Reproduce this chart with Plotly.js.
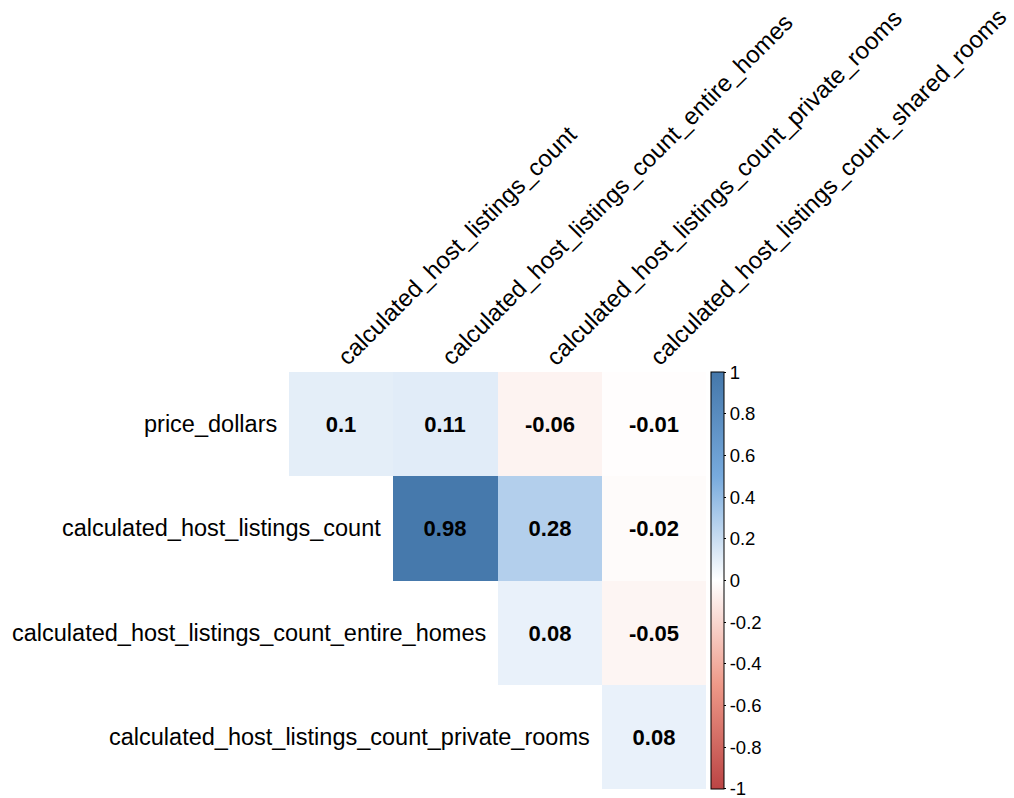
<!DOCTYPE html>
<html>
<head>
<meta charset="utf-8">
<script src="https://cdn.plot.ly/plotly-3.0.1.min.js"></script>
<style>html,body{margin:0;padding:0;background:#fff;}</style>
</head>
<body>
<div id="chart" style="width:1014px;height:798px;"></div>
<script>
// Row variables (top to bottom)
const rowLabels = [
  "price_dollars",
  "calculated_host_listings_count",
  "calculated_host_listings_count_entire_homes",
  "calculated_host_listings_count_private_rooms"
];
// Column variables (left to right)
const colLabels = [
  "calculated_host_listings_count",
  "calculated_host_listings_count_entire_homes",
  "calculated_host_listings_count_private_rooms",
  "calculated_host_listings_count_shared_rooms"
];
// Correlation values (upper triangle, null = not shown)
const row0 = [0.1, 0.11, -0.06, -0.01];
const row1 = [null, 0.98, 0.28, -0.02];
const row2 = [null, null, 0.08, -0.05];
const row3 = [null, null, null, 0.08];
const colorbarTicks = [1, 0.8, 0.6, 0.4, 0.2, 0, -0.2, -0.4, -0.6, -0.8, -1];

const zRows = [row0, row1, row2, row3];
const textRows = zRows.map(r => r.map(v => v === null ? "" : String(v)));
const xIdx = colLabels.map((_, i) => i);
const yIdx = rowLabels.map((_, i) => i);

const FONT = "Liberation Sans, Arial, sans-serif";

const trace = {
  type: "heatmap",
  x: xIdx,
  y: yIdx,
  z: zRows,
  text: textRows,
  texttemplate: "<b>%{text}</b>",
  textfont: {family: FONT, size: 22, color: "#000000"},
  zmin: -1, zmax: 1,
  colorscale: [
    [0, "#BB4444"], [0.25, "#EE9988"], [0.5, "#FFFFFF"], [0.75, "#77AADD"], [1, "#4477AA"]
  ],
  hoverongaps: false,
  colorbar: {
    x: 1.012, xanchor: "left", xpad: 0,
    y: 0.5, yanchor: "middle", ypad: 0,
    len: 1, lenmode: "fraction",
    thickness: 13, thicknessmode: "pixels",
    outlinecolor: "#000000", outlinewidth: 1,
    tickvals: colorbarTicks.map(v => v === -1 ? -0.9999 : (v === 1 ? 0.9999 : v)),
    ticktext: colorbarTicks.map(v => String(v)),
    ticks: "outside", ticklen: 2, tickcolor: "#000000",
    ticklabeloverflow: "allow",
    tickfont: {family: FONT, size: 18.5, color: "#000000"}
  }
};

const rowAnn = rowLabels.map((lab, i) => ({
  xref: "x", yref: "y",
  x: i - 0.5, y: i,
  text: lab,
  showarrow: false,
  xanchor: "right", yanchor: "middle",
  xshift: -10,
  font: {family: FONT, size: 23.5, color: "#000000"}
}));

const colAnn = colLabels.map((lab, i) => ({
  xref: "x", yref: "paper",
  x: i, y: 1,
  text: lab,
  textangle: -45,
  showarrow: false,
  xanchor: "left", yanchor: "bottom",
  xshift: -12, yshift: -1,
  font: {family: FONT, size: 24, color: "#000000"}
}));

const layout = {
  width: 1014, height: 798,
  margin: {l: 289, r: 308, t: 372, b: 9},
  paper_bgcolor: "#ffffff",
  plot_bgcolor: "#ffffff",
  xaxis: {
    range: [-0.5, 3.5],
    showticklabels: false,
    showgrid: false, zeroline: false, showline: false, ticks: "",
    fixedrange: true
  },
  yaxis: {
    range: [3.5, -0.5],
    showticklabels: false,
    showgrid: false, zeroline: false, showline: false, ticks: "",
    fixedrange: true
  },
  annotations: rowAnn.concat(colAnn),
  showlegend: false
};

Plotly.newPlot("chart", [trace], layout, {displayModeBar: false, staticPlot: true});
</script>
</body>
</html>
